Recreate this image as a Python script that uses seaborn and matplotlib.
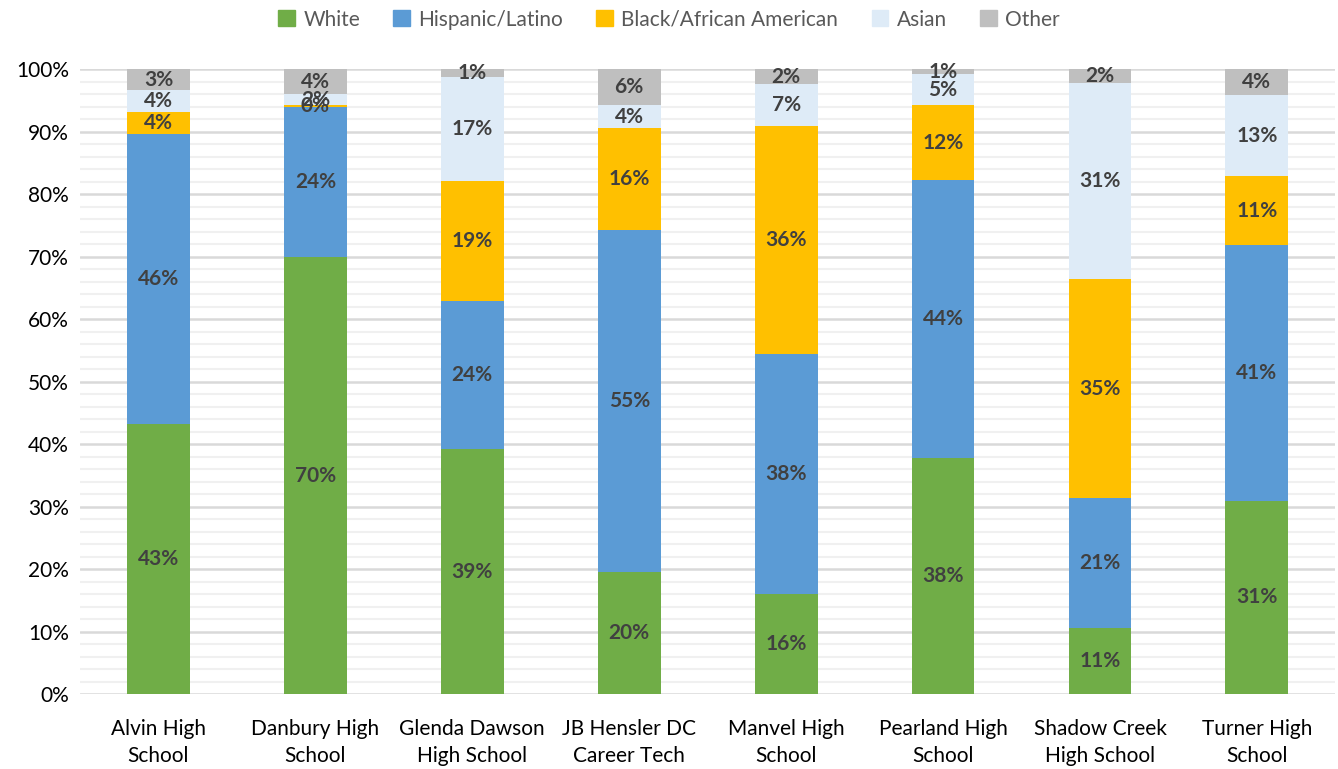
import numpy as np
import pandas as pd
import matplotlib
matplotlib.use("Agg")
import matplotlib.pyplot as plt
from matplotlib.ticker import MultipleLocator, FuncFormatter
import seaborn as sns

schools = ["Alvin High\nSchool", "Danbury High\nSchool", "Glenda Dawson\nHigh School",
           "JB Hensler DC\nCareer Tech", "Manvel High\nSchool", "Pearland High\nSchool",
           "Shadow Creek\nHigh School", "Turner High\nSchool"]
groups = ["White", "Hispanic/Latino", "Black/African American", "Asian", "Other"]
white = [43.2, 69.9, 39.2, 19.6, 16.0, 37.8, 10.6, 30.9]
hispanic = [46.4, 24.0, 23.7, 54.6, 38.4, 44.4, 20.7, 40.9]
black = [3.5, 0.3, 19.2, 16.4, 36.5, 12.0, 35.1, 11.1]
asian = [3.5, 1.8, 16.6, 3.6, 6.7, 5.0, 31.4, 12.9]
other = [3.4, 4.0, 1.3, 5.8, 2.4, 0.8, 2.2, 4.2]
colors = ["#70AD47", "#5B9BD5", "#FFC000", "#DEEBF7", "#BFBFBF"]

sns.set_style("white")
plt.rcParams['font.family'] = ['Lato', 'DejaVu Sans']

df = pd.DataFrame({"School": schools, "White": white, "Hispanic/Latino": hispanic,
                   "Black/African American": black, "Asian": asian, "Other": other})
cum = df[groups].cumsum(axis=1)

fig = plt.figure(figsize=(13.38, 7.69), dpi=100)
ax = fig.add_axes([0.0598, 0.0975, 0.9382, 0.8125])

# stacked bars: draw cumulative totals from the top layer down
for g, c in reversed(list(zip(groups, colors))):
    sns.barplot(x=df["School"], y=cum[g], color=c, width=0.4, ax=ax,
                saturation=1, order=schools, edgecolor="none")

# segment labels
for i in range(len(schools)):
    bottom = 0
    for g in groups:
        v = df.loc[i, g]
        ax.text(i, bottom + v / 2, f"{round(v):.0f}%", ha="center", va="center",
                fontsize=15, fontweight="bold", color="#404040", zorder=5)
        bottom += v

ax.set_ylim(0, 100)
ax.set_xlim(-0.5, len(schools) - 0.5)
ax.yaxis.set_major_locator(MultipleLocator(10))
ax.yaxis.set_minor_locator(MultipleLocator(2))
ax.yaxis.set_major_formatter(FuncFormatter(lambda v, p: f"{v:.0f}%"))
ax.grid(axis="y", which="major", color="#D9D9D9", linewidth=1.8, zorder=0)
ax.grid(axis="y", which="minor", color="#F0F0F0", linewidth=1.5, zorder=0)
ax.set_axisbelow(True)
for s in ax.spines.values():
    s.set_visible(False)
ax.tick_params(axis="both", which="both", length=0, labelsize=15, colors="#000000")
ax.tick_params(axis="y", pad=8)
ax.tick_params(axis="x", pad=18)
for t in ax.get_xticklabels():
    t.set_linespacing(1.45)
ax.set_xlabel("")
ax.set_ylabel("")

handles = [plt.Rectangle((0, 0), 1, 1, color=c) for c in colors]
fig.legend(handles, groups, loc="upper center", bbox_to_anchor=(0.5, 1.012), ncol=5,
           frameon=False, fontsize=15, handlelength=0.8, handleheight=0.8,
           columnspacing=1.6, handletextpad=0.4, labelcolor="#595959")

fig.savefig("out.png", dpi=100)
